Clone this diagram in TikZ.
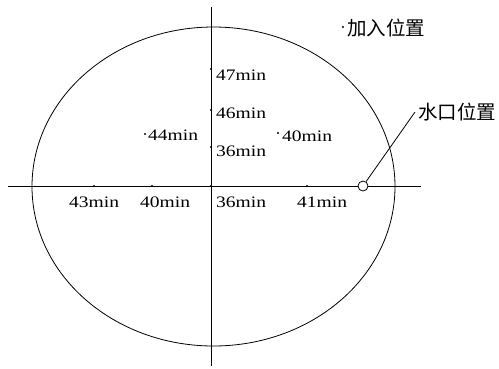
\documentclass[tikz,border=0pt]{standalone}
\usepackage{fontspec}
\usepackage{graphicx}
\setmainfont{Liberation Serif}
\newfontfamily\cjk{Noto Sans CJK SC}
\newcommand{\mytxt}[1]{\scalebox{1.22}[1]{\fontsize{16}{18}\selectfont #1}}
\newcommand{\mycjk}[1]{{\cjk\fontsize{19.5}{22}\selectfont #1}}
\begin{document}
\begin{tikzpicture}[x=1pt,y=-1pt,
  lbl/.style={inner sep=0pt, anchor=base west},
  clbl/.style={inner sep=0pt, anchor=west},
  dotm/.style={circle, fill=black, inner sep=0pt, minimum size=2.2pt},
  ln/.style={line width=0.8pt}]
\useasboundingbox (0,0) rectangle (499,368);
\draw[ln] (213.5,186.5) ellipse [x radius=181.5, y radius=159.5];
\coordinate (hl) at (8,186);
\coordinate (hr) at (421,186);
\coordinate (vt) at (211,7);
\coordinate (vb) at (211,366);
\draw[ln] (hl) -- (hr);
\draw[ln] (vt) -- (vb);
% dots on axes
\node[dotm] (d43) at (94,186) {};
\node[dotm] (d40h) at (152,186) {};
\node[dotm] (d36h) at (211,186) {};
\node[dotm] (d41) at (307,186) {};
\node[dotm] (d47) at (211,69) {};
\node[dotm] (d46) at (211,110) {};
\node[dotm] (d36v) at (211,147) {};
\node[dotm] (d44) at (145,134) {};
\node[dotm] (d40) at (278,133) {};
\node[dotm] (djia) at (343,27) {};
% labels
\node[lbl] (t47) at (216,80) {\mytxt{47min}};
\node[lbl] (t46) at (216,118) {\mytxt{46min}};
\node[lbl] (t36v) at (216,156) {\mytxt{36min}};
\node[lbl] (t44) at (148,140) {\mytxt{44min}};
\node[lbl] (t40) at (282,141) {\mytxt{40min}};
\node[lbl] (t43) at (69,207) {\mytxt{43min}};
\node[lbl] (t40h) at (140,207) {\mytxt{40min}};
\node[lbl] (t36h) at (216,207) {\mytxt{36min}};
\node[lbl] (t41) at (297,207) {\mytxt{41min}};
\node[clbl] (tjia) at (347,28) {\mycjk{加入位置}};
% water inlet
\node[circle, draw, ln, inner sep=0pt, minimum size=10pt, fill=white] (wk) at (363,186) {};
\coordinate (lead) at (415,112);
\draw[ln] (wk) -- (lead);
\node[clbl] (tshui) at (418,112) {\mycjk{水口位置}};
\end{tikzpicture}
\end{document}
